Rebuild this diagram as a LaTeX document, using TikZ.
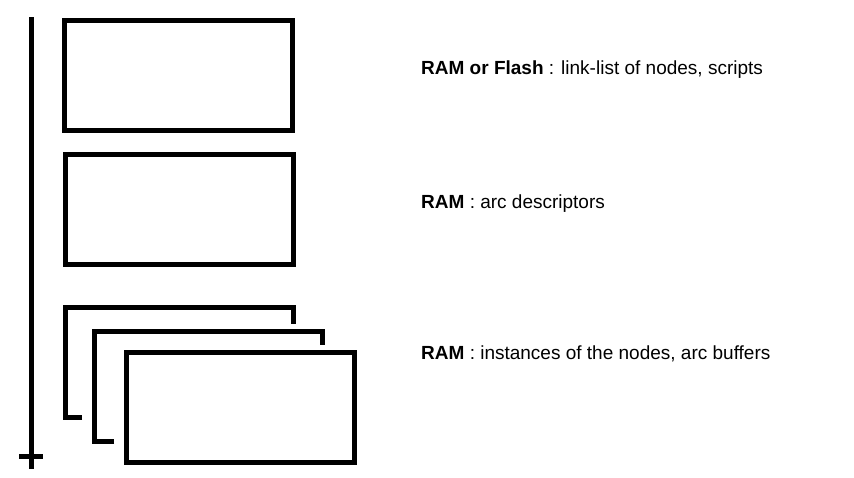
\documentclass[tikz,border=0pt]{standalone}
\usepackage{fontspec}
\setmainfont{Liberation Sans}
\usetikzlibrary{positioning}

\begin{document}
\begin{tikzpicture}[x=1pt, y=-1pt,
        membox/.style={rectangle, draw=black, line width=5pt,
                       minimum width=228pt, minimum height=110pt, inner sep=0pt},
        memline/.style={line width=5pt, black},
        memtext/.style={anchor=base west, inner sep=0pt,
                        font=\fontsize{19}{23}\selectfont}
      ]
        \useasboundingbox (0,0) rectangle (854,477);

        % memory axis
        \coordinate (axtop) at (31.5,17);
        \coordinate (axbot) at (31.5,469);
        \coordinate (tickl) at (19,456);
        \coordinate (tickr) at (43,456);
        \draw[memline] (axtop) -- (axbot);
        \draw[memline] (tickl) -- (tickr);

        \node[membox] (graph) at (178.5,75.2) {};
        \node[membox] (arcs)  at (179,209.8) {};

        % stacked instances, back to front
        \draw[memline] (82,417.5) -- (65.5,417.5) -- (65.5,307.5) -- (293.5,307.5) -- (293.5,324);
        \draw[memline] (114,441.5) -- (94.5,441.5) -- (94.5,331.5) -- (322.5,331.5) -- (322.5,345);
        \node[membox] (inst) at (240.5,407) {};

        \node[memtext] (lblgraph) at (421,74.3) {\textbf{RAM or Flash} : link-list of nodes, scripts};
        \node[memtext] (lblarcs)  at (421,208.3) {\textbf{RAM} : arc descriptors};
        \node[memtext] (lblinst)  at (421,359.3) {\textbf{RAM} : instances of the nodes, arc buffers};
      \end{tikzpicture}
\end{document}
